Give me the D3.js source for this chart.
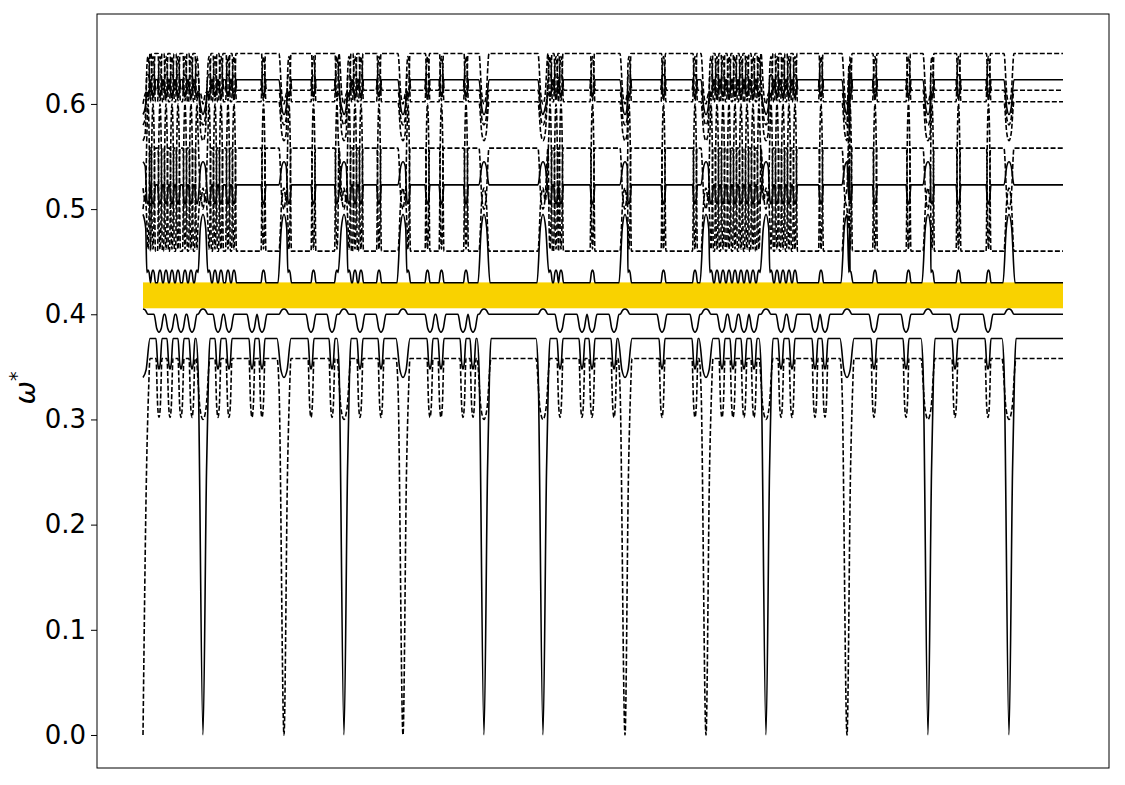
<!DOCTYPE html>
<html><head><meta charset="utf-8">
<script src="https://cdn.jsdelivr.net/npm/d3@7"></script>
<style>body{margin:0;background:#fff}svg{display:block}text{font-family:"DejaVu Sans",sans-serif}</style>
</head><body><svg id="c" width="1125" height="785"></svg>
<script>
// ---- data (x = position along the k-path, 0..920) ----
const pathEnd = 920;
const gammaX = [0, 60, 141, 201, 260, 341, 400, 482, 563, 623, 704, 785, 866];
const gammaKind = ["d","s","d","s","d","s","s","d","d","s","d","s","s"];
const crossX = [5,10,17,23,29,35,42,48,54, 66,72,78,85,91,120.5, 146,170.5,194,
  206,212,218,236, 265,284.5,298.5,323, 407,413,418,449.5, 486,520.5,552,
  568,574,580,586,592,598,604,610,616, 628,634,640,646,652,678, 707,732,765.5, 789,815.5,845.5];
const dipX = [16,27,38,49, 75,86, 109,119, 168,189, 217,238, 287,298, 320,330,
  417, 439,449, 471, 519,552, 579,590, 601,611, 638,649, 672,682, 731,763, 812,845];
const gapBand = [0.4057, 0.4303];
const yTicks = [0.0, 0.1, 0.2, 0.3, 0.4, 0.5, 0.6];

// bands (flat level, line style, value reached at crossings / dips / Gamma points)
const bandLevel   = [0.358, 0.377, 0.400, 0.430, 0.460, 0.523, 0.558, 0.602, 0.613, 0.623, 0.648];
const bandDashed  = [true,  false, false, false, true,  false, true,  true,  true,  false, true ];
const crossTarget = [null,  null,  null,  0.442, 0.600, 0.505, 0.462, 0.645, 0.628, 0.607, 0.603];
const crossHW     = [0,     0,     0,     2.5,   2.4,   2.5,   1.9,   2.4,   3.0,   2.5,   1.9  ];
const dipTarget   = [0.302, 0.348, 0.383, null,  null,  null,  null,  null,  null,  null,  null ];
const dipHW       = [3.0,   3.0,   5.0,   0,     0,     0,     0,     0,     0,     0,     0    ];
const gammaAtD    = [0.000, 0.340, 0.405, 0.495, 0.520, 0.545, 0.500, 0.565, 0.580, 0.590, 0.600];
const gammaAtS    = [0.300, 0.000, 0.405, 0.495, 0.520, 0.545, 0.500, 0.565, 0.580, 0.590, 0.600];
const gammaHW     = [7,     7,     5,     6,     5,     5,     5,     5,     5,     5,     5    ];

// ---- drawing ----
const svg = d3.select("#c");
const X = d3.scaleLinear().domain([-46, 966]).range([97, 1109]);
const Y = d3.scaleLinear().domain([-0.0314, 0.6855]).range([768, 14]);

svg.append("rect").attr("x", X(0)).attr("width", X(pathEnd) - X(0))
  .attr("y", Y(gapBand[1])).attr("height", Y(gapBand[0]) - Y(gapBand[1]))
  .attr("fill", "#F9D200");

function buildBand(i) {
  const L = bandLevel[i];
  const ev = [];
  gammaX.forEach((gx, j) => {
    const T = gammaKind[j] === "d" ? gammaAtD[i] : gammaAtS[i];
    ev.push({x: gx, T, w: gammaHW[i], drop: T === 0});
  });
  if (crossTarget[i] != null) crossX.forEach(cx => ev.push({x: cx, T: crossTarget[i], w: crossHW[i]}));
  if (dipTarget[i] != null) dipX.forEach(dx => ev.push({x: dx, T: dipTarget[i], w: dipHW[i]}));
  let knots = [];
  ev.forEach(e => {
    const w = e.w, T = e.T;
    if (e.drop) {
      knots.push({x: e.x - w, y: L, p: true});
      knots.push({x: e.x - 0.7 * w, y: L - 0.03});
      knots.push({x: e.x, y: T});
      knots.push({x: e.x + 0.5 * w, y: 0.25});
      knots.push({x: e.x + 0.8 * w, y: L - 0.03});
      knots.push({x: e.x + w, y: L, p: true});
    } else {
      const m = L + 0.8 * (T - L);
      knots.push({x: e.x - w, y: L, p: true});
      knots.push({x: e.x - 0.45 * w, y: m});
      knots.push({x: e.x, y: T});
      knots.push({x: e.x + 0.45 * w, y: m});
      knots.push({x: e.x + w, y: L, p: true});
    }
  });
  knots = knots.filter(k => !(k.p && ev.some(e => k.x > e.x - e.w && k.x < e.x + e.w)));
  knots = knots.filter(k => k.x >= 0 && k.x <= pathEnd);
  knots.push({x: pathEnd, y: L});
  knots.sort((a, b) => a.x - b.x);
  for (let k = 1; k < knots.length; k++) {
    if (knots[k].x <= knots[k - 1].x) knots[k].x = knots[k - 1].x + 0.05;
  }
  return knots.filter(k => k.x <= pathEnd + 0.5);
}

const line = d3.line().x(d => X(d.x)).y(d => Y(d.y)).curve(d3.curveMonotoneX);
const g = svg.append("g");
bandLevel.forEach((L, i) => {
  g.append("path").attr("d", line(buildBand(i)))
    .attr("fill", "none").attr("stroke", "#000").attr("stroke-width", 1.6)
    .attr("stroke-dasharray", bandDashed[i] ? "5,2.2" : null)
    .attr("stroke-linejoin", "round");
});

// axes
const ax = svg.append("g").attr("transform", `translate(${X(-46)},0)`)
  .call(d3.axisLeft(Y).tickValues(yTicks).tickFormat(d3.format(".1f")).tickSize(6).tickPadding(5));
ax.select(".domain").remove();
ax.selectAll("text").attr("font-size", 26).attr("fill", "#000").attr("font-family", "DejaVu Sans");
ax.selectAll("line").attr("stroke", "#000");

svg.append("rect").attr("x", 97).attr("y", 14).attr("width", 1012).attr("height", 754)
  .attr("fill", "none").attr("stroke", "#000").attr("stroke-width", 1);

const lab = svg.append("text").attr("transform", "translate(35,388) rotate(-90)")
  .attr("text-anchor", "middle").attr("font-size", 28);
lab.append("tspan").attr("font-style", "italic").text("ω");
lab.append("tspan").attr("font-size", 19).attr("dy", -12).text("*");
</script></body></html>
